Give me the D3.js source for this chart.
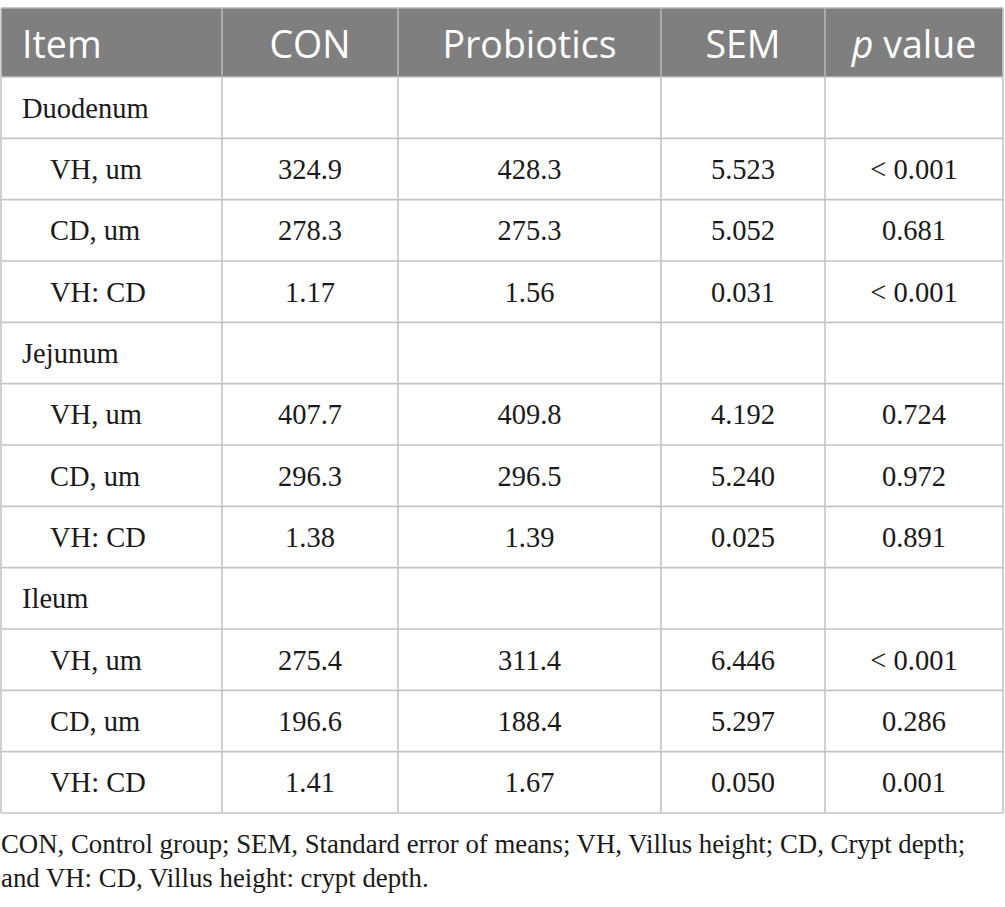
<!DOCTYPE html>
<html>
<head>
<meta charset="utf-8">
<script src="https://cdn.jsdelivr.net/npm/d3@7"></script>
<style>
  body { margin: 0; background: #fff; }
</style>
</head>
<body>
<svg id="chart" width="1005" height="907"></svg>
<script>
// table content
const columns = ["Item", "CON", "Probiotics", "SEM", "p value"];
const sections = ["Duodenum", "Jejunum", "Ileum"];
const items = ["VH, um", "CD, um", "VH: CD"];
const conValues = ["324.9", "278.3", "1.17", "407.7", "296.3", "1.38", "275.4", "196.6", "1.41"];
const probioticsValues = ["428.3", "275.3", "1.56", "409.8", "296.5", "1.39", "311.4", "188.4", "1.67"];
const semValues = ["5.523", "5.052", "0.031", "4.192", "5.240", "0.025", "6.446", "5.297", "0.050"];
const pValues = ["< 0.001", "0.681", "< 0.001", "0.724", "0.972", "0.891", "< 0.001", "0.286", "0.001"];
const footnote = [
  "CON, Control group; SEM, Standard error of means; VH, Villus height; CD, Crypt depth;",
  "and VH: CD, Villus height: crypt depth."
];

// build the row list: a section heading then its three items
let rows = [];
sections.forEach((s, si) => {
  rows.push({ kind: "section", label: s });
  items.forEach((it, ii) => {
    let k = si * 3 + ii;
    rows.push({ kind: "item", label: it, values: [conValues[k], probioticsValues[k], semValues[k], pValues[k]] });
  });
});

let svg = d3.select('#chart');
let tableTop = 8, headerBottom = 77, tableBottom = 813;
let colEdges = [1, 222, 398, 661, 825, 1003];
let lineColor = "#c4c4c4";

let y = d3.scaleBand()
  .domain(d3.range(rows.length))
  .range([headerBottom, tableBottom]);

let colMid = i => (colEdges[i] + colEdges[i + 1]) / 2;

// header band
svg.append("rect")
  .attr("x", colEdges[0]).attr("y", tableTop)
  .attr("width", colEdges[5] - colEdges[0]).attr("height", headerBottom - tableTop)
  .attr("fill", "#7f7f7f");

let header = svg.append("g")
  .attr("font-family", "'Open Sans', sans-serif")
  .attr("font-size", 37.5)
  .attr("fill", "#fff");

header.selectAll("text")
  .data(columns)
  .join("text")
  .attr("x", (d, i) => i === 0 ? 22 : colMid(i))
  .attr("y", 58)
  .attr("text-anchor", (d, i) => i === 0 ? "start" : "middle")
  .each(function(d) {
    let t = d3.select(this);
    if (d === "p value") {
      t.append("tspan").attr("font-style", "italic").text("p");
      t.append("tspan").text(" value");
    } else {
      t.text(d);
    }
  });

// grid lines
let grid = svg.append("g")
  .attr("stroke", lineColor)
  .attr("stroke-width", 1.6)
  .attr("fill", "none");

grid.selectAll("line.h")
  .data(d3.range(rows.length + 1))
  .join("line")
  .attr("class", "h")
  .attr("x1", colEdges[0]).attr("x2", colEdges[5])
  .attr("y1", i => i === rows.length ? tableBottom : y(i))
  .attr("y2", i => i === rows.length ? tableBottom : y(i));

grid.append("line")
  .attr("x1", colEdges[0]).attr("x2", colEdges[5])
  .attr("y1", tableTop).attr("y2", tableTop)
  .attr("stroke", "#b0b0b0");

grid.selectAll("line.v")
  .data(colEdges)
  .join("line")
  .attr("class", "v")
  .attr("x1", d => d).attr("x2", d => d)
  .attr("y1", tableTop).attr("y2", tableBottom);

// header vertical separators a little lighter on the gray fill
svg.append("g")
  .selectAll("line")
  .data(colEdges.slice(1, 5))
  .join("line")
  .attr("x1", d => d).attr("x2", d => d)
  .attr("y1", tableTop).attr("y2", headerBottom)
  .attr("stroke", "#a8a8a8")
  .attr("stroke-width", 1.6);

// body text
let bodyText = svg.append("g")
  .attr("font-family", "'Liberation Serif', 'DejaVu Serif', serif")
  .attr("font-size", 28.5)
  .attr("fill", "#1a1a1a");

let rowG = bodyText.selectAll("g")
  .data(rows)
  .join("g")
  .attr("transform", (d, i) => `translate(0,${y(i) + y.bandwidth() / 2 + 10})`);

rowG.append("text")
  .attr("x", d => d.kind === "section" ? 22 : 50)
  .text(d => d.label);

rowG.filter(d => d.kind === "item")
  .selectAll("text.v")
  .data(d => d.values)
  .join("text")
  .attr("class", "v")
  .attr("x", (d, i) => colMid(i + 1))
  .attr("text-anchor", "middle")
  .text(d => d);

// footnote
svg.append("g")
  .attr("font-family", "'Liberation Serif', 'DejaVu Serif', serif")
  .attr("font-size", 26.8)
  .attr("fill", "#1a1a1a")
  .selectAll("text")
  .data(footnote)
  .join("text")
  .attr("x", 1)
  .attr("y", (d, i) => 853 + i * 34)
  .text(d => d);
</script>
</body>
</html>
